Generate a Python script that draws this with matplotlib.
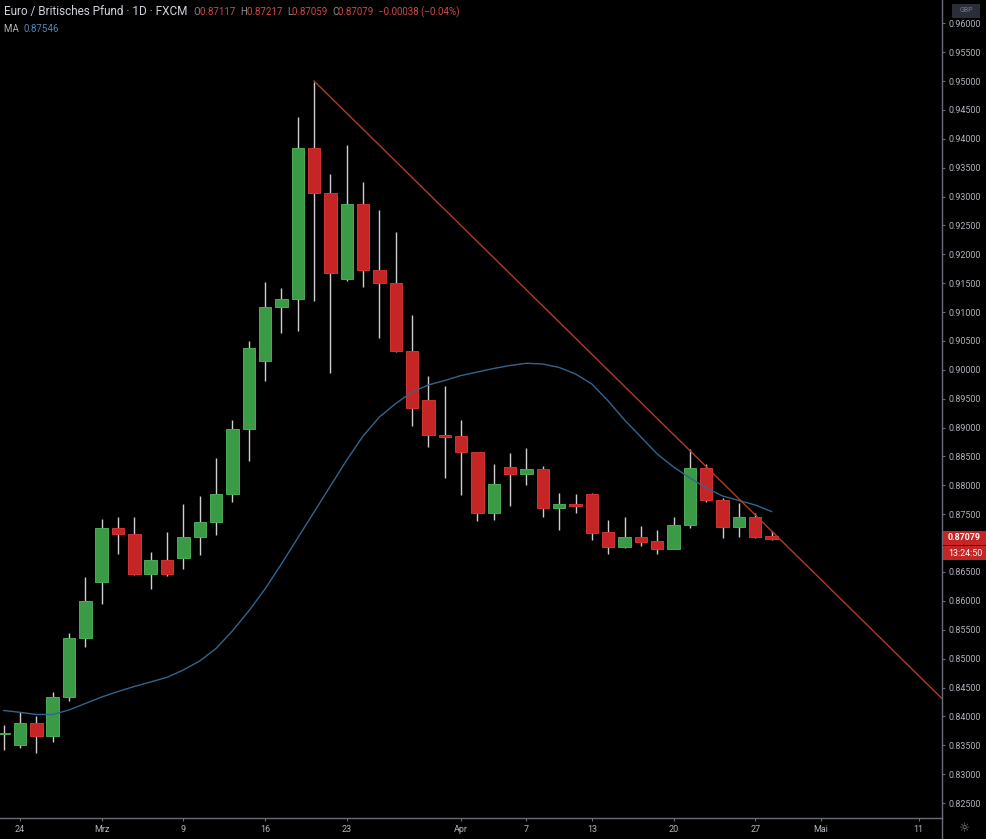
import numpy as np
import pandas as pd
import matplotlib
matplotlib.use('Agg')
import matplotlib.pyplot as plt
from matplotlib.patches import Rectangle
from matplotlib.lines import Line2D

# EUR/GBP daily candles, 21.02.2020 - 28.04.2020
dates = pd.bdate_range('2020-02-21', '2020-04-28')
opens = [0.83700, 0.8350, 0.8388, 0.8366, 0.8433, 0.8535, 0.8632, 0.8727, 0.8715, 0.8647,
         0.8671, 0.8675, 0.8710, 0.8737, 0.8785, 0.8897, 0.9016, 0.9109, 0.9122, 0.9384,
         0.9307, 0.9157, 0.9287, 0.9172, 0.9150, 0.9033, 0.8948, 0.8887, 0.8885, 0.8857,
         0.8752, 0.8831, 0.8819, 0.8828, 0.8760, 0.8768, 0.8785, 0.8719, 0.8693, 0.8711,
         0.8703, 0.8690, 0.8731, 0.8830, 0.8775, 0.8728, 0.8745, 0.87117]
highs = [0.8385, 0.8408, 0.8401, 0.8442, 0.8544, 0.8642, 0.8742, 0.8746, 0.8746, 0.8684,
         0.8720, 0.8768, 0.8782, 0.8847, 0.8913, 0.9050, 0.9152, 0.9141, 0.9438, 0.9499,
         0.9339, 0.9389, 0.9325, 0.9276, 0.9239, 0.9095, 0.8989, 0.8972, 0.8913, 0.8858,
         0.8837, 0.8856, 0.8864, 0.8834, 0.8787, 0.8785, 0.8786, 0.8740, 0.8746, 0.8730,
         0.8723, 0.8745, 0.8863, 0.8837, 0.8778, 0.8770, 0.8752, 0.87217]
lows = [0.8342, 0.8345, 0.8337, 0.8356, 0.8427, 0.8521, 0.8595, 0.8682, 0.8645, 0.8621,
        0.8643, 0.8656, 0.8680, 0.8714, 0.8772, 0.8843, 0.8980, 0.9064, 0.9068, 0.9120,
        0.8994, 0.9154, 0.9144, 0.9055, 0.9031, 0.8903, 0.8866, 0.8812, 0.8783, 0.8739,
        0.8740, 0.8765, 0.8800, 0.8746, 0.8723, 0.8753, 0.8705, 0.8682, 0.8691, 0.8695,
        0.8682, 0.8689, 0.8726, 0.8772, 0.8708, 0.8711, 0.8708, 0.87059]
closes = [0.83712, 0.8388, 0.8366, 0.8433, 0.8535, 0.8600, 0.8727, 0.8715, 0.8647, 0.8671,
          0.8647, 0.8710, 0.8737, 0.8785, 0.8897, 0.9037, 0.9109, 0.9122, 0.9384, 0.9307,
          0.9167, 0.9287, 0.9172, 0.9150, 0.9033, 0.8934, 0.8887, 0.8884, 0.8857, 0.8752,
          0.8802, 0.8819, 0.8828, 0.8760, 0.8768, 0.8765, 0.8718, 0.8693, 0.8711, 0.8702,
          0.8690, 0.8731, 0.8830, 0.8775, 0.8728, 0.8746, 0.8711, 0.87079]
ma = [0.84102, 0.84071, 0.84033, 0.84033, 0.84111, 0.84224, 0.84336, 0.84431, 0.84518, 0.84596,
      0.84677, 0.84804, 0.84959, 0.85176, 0.85479, 0.85825, 0.86206, 0.86639, 0.87089, 0.87539,
      0.87989, 0.88439, 0.88855, 0.89184, 0.89418, 0.89617, 0.89738, 0.89816, 0.89902, 0.89963,
      0.90024, 0.90076, 0.90114, 0.90101, 0.90041, 0.89928, 0.89755, 0.89461, 0.89132, 0.88838,
      0.88543, 0.88318, 0.88128, 0.87955, 0.87816, 0.87738, 0.87660, 0.87546]

# trendline from the 19.03. high down to the right edge
trend_x = [19, 58]
trend_y = [0.9500, 0.8415]

axis_days = pd.bdate_range('2020-02-21', '2020-05-20')
tick_dates = ['2020-02-24', '2020-03-02', '2020-03-09', '2020-03-16', '2020-03-23', '2020-04-01',
              '2020-04-07', '2020-04-13', '2020-04-20', '2020-04-27', '2020-05-01', '2020-05-11']
tick_labels = ['24', 'Mrz', '9', '16', '23', 'Apr', '7', '13', '20', '27', 'Mai', '11']
price_ticks = np.arange(0.825, 0.9601, 0.005)
last_price = 0.87079

W, H = 986, 839
BG = '#000000'
GREEN, GREEN_E = '#3b9a45', '#4caa55'
RED, RED_E = '#c62526', '#d23535'
WICK = '#cfcfcf'
TXT = '#b2b5be'
AXC = '#6b6e78'
FONT = ['Liberation Sans Narrow', 'Roboto', 'DejaVu Sans']

fig = plt.figure(figsize=(W / 100, H / 100), dpi=100, facecolor=BG)
ax = fig.add_axes([0, 21 / H, 942 / W, 818 / H])
ax.set_facecolor(BG)

x = np.arange(len(dates))
o = np.array(opens); c = np.array(closes)
up = c >= o
ax.vlines(x, lows, highs, color=WICK, lw=1, zorder=2)
body = np.where(np.abs(c - o) < 0.00008, 0.00008, c - o)
ax.bar(x[up], body[up], bottom=o[up], width=0.76, color=GREEN, edgecolor=GREEN_E, lw=0.7, zorder=3)
ax.bar(x[~up], body[~up], bottom=o[~up], width=0.76, color=RED, edgecolor=RED_E, lw=0.7, zorder=3)

ax.plot(x, ma, color='#33658c', lw=1.0, zorder=4)
ax.plot(trend_x, trend_y, color='#b33a28', lw=1.0, zorder=5)

ax.set_xlim(-0.223, 57.43)
ax.set_ylim(0.82241, 0.96403)

pos = axis_days.get_indexer(pd.to_datetime(tick_dates))
ax.set_xticks(pos)
ax.set_xticklabels(tick_labels, fontsize=6.5, color=TXT, family=FONT)
ax.yaxis.tick_right()
ax.set_yticks(price_ticks)
# the 0.87000 label sits under the last-price tag, so it stays empty
ylabels = ['' if abs(v - last_price) < 0.003 else '%.5f' % v for v in price_ticks]
ax.set_yticklabels(ylabels, fontsize=6.4, color=TXT, family=FONT)
ax.tick_params(axis='x', length=2.2, width=0.8, color=AXC, pad=2.5)
ax.tick_params(axis='y', length=2.2, width=0.8, color=AXC, pad=2.2)
for s in ['top', 'left']:
    ax.spines[s].set_visible(False)
for s in ['bottom', 'right']:
    ax.spines[s].set_color(AXC)
    ax.spines[s].set_linewidth(1)

# right spine continues through the time axis strip
fig.add_artist(Line2D([942 / W, 942 / W], [0, 21 / H], color=AXC, lw=1))

# header
r = fig.canvas.get_renderer()
def seq_text(px, py, parts, size):
    for s, col in parts:
        t = fig.text(px / W, 1 - py / H, s, color=col, fontsize=size, family=FONT, va='center')
        bb = t.get_window_extent(renderer=r)
        px += bb.width

seq_text(4, 11, [('Euro / Britisches Pfund · 1D · FXCM', '#d1d4dc')], 8.5)
LBL, VAL = '#8a8d96', '#cf4a44'
seq_text(193, 12, [('O', LBL), ('0.87117  ', VAL), ('H', LBL), ('0.87217  ', VAL), ('L', LBL),
                   ('0.87059  ', VAL), ('C', LBL), ('0.87079  \u22120.00038 (\u22120.04%)', VAL)], 7)
seq_text(4, 29, [('MA  ', '#b2b5be'), ('0.87546', '#4f87b3')], 7)

# currency tag
fig.add_artist(Rectangle((952 / W, 1 - 18 / H), 28 / W, 14 / H, transform=fig.transFigure,
                         facecolor='#2a2e39', edgecolor='none', zorder=5))
fig.text(966 / W, 1 - 11 / H, 'GBP', fontsize=5, color='#787b86', ha='center', va='center',
         family=FONT, zorder=6)

# last price / countdown labels
fig.add_artist(Rectangle((943 / W, 1 - 545 / H), 43 / W, 14 / H, transform=fig.transFigure,
                         facecolor=RED, edgecolor='none', zorder=5))
fig.add_artist(Rectangle((943 / W, 1 - 560 / H), 43 / W, 14 / H, transform=fig.transFigure,
                         facecolor=RED, edgecolor='none', zorder=5))
fig.text(948 / W, 1 - 538 / H, '0.87079', fontsize=6.4, color='white', va='center',
         family=FONT, weight='bold', zorder=6)
fig.text(948 / W, 1 - 553 / H, '13:24:50', fontsize=6.4, color='white', va='center',
         family=FONT, zorder=6)

# settings gear
fig.text(965 / W, 1 - 829 / H, '\u263c', fontsize=9, color='#8a8d96', ha='center', va='center')

fig.savefig('out.png', dpi=100, facecolor=BG)
